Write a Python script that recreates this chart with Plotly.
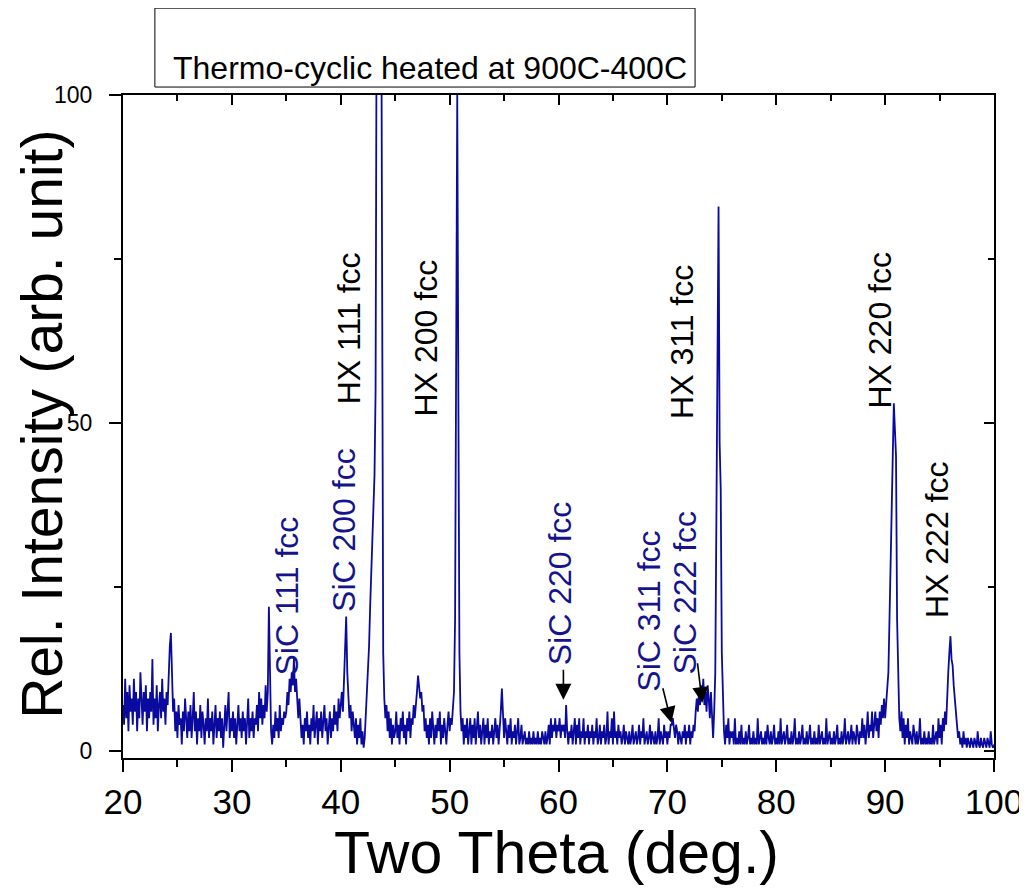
import numpy as np
import plotly.graph_objects as go

# XRD scan, 2-theta sampled every 0.1 deg from 20 to 100
theta_start = 20.0
theta_step = 0.1

# intensities, one list per 10 degrees
int_20s = [7, 4, 11, 5, 9, 3, 10, 6, 8, 4,
           11, 6, 9, 3, 8, 5, 12, 7, 4, 9,
           6, 10, 3, 8, 5, 9, 6, 14, 4, 8,
           5, 10, 3, 7, 9, 5, 11, 6, 8, 4,
           9, 7, 12, 16, 18, 10, 6, 8, 3, 6,
           2, 7, 4, 5, 1, 6, 3, 8, 4, 2,
           6, 3, 7, 2, 5, 9, 3, 6, 1, 5,
           3, 7, 2, 6, 4, 1, 5, 3, 8, 2,
           5, 3, 6, 1, 4, 7, 2, 5, 3, 6,
           2, 5, 0.5, 4, 7, 3, 6, 9, 2, 5]
int_30s = [3, 6, 2, 5, 1, 4, 7, 3, 5, 2,
           6, 3, 5, 1, 4, 8, 2, 5, 3, 6,
           2, 5, 4, 7, 3, 9, 5, 8, 4, 7,
           5, 10, 6, 9, 22, 8, 3, 1, 4, 2,
           6, 3, 5, 2, 7, 3, 5, 4, 6, 5,
           6, 9, 7, 11, 9, 12, 10, 14, 9, 11,
           7, 5, 8, 4, 2, 4, 1, 5, 3, 6,
           2, 4, 1, 5, 3, 7, 2, 4, 6, 1,
           5, 3, 6, 2, 4, 7, 3, 5, 1, 4,
           6, 2, 5, 3, 7, 4, 6, 3, 8, 5]
int_40s = [7, 9, 6, 10, 16, 20.5, 12, 8, 5, 7,
           3, 6, 4, 2, 5, 1, 4, 2, 5, 1,
           3, 0.5, 2, 5, 8, 11, 16, 22, 27, 33,
           38, 42, 55, 140, 210, 240, 200, 130, 45, 15,
           8, 5, 7, 3, 6, 2, 5, 1, 4, 2,
           3, 6, 2, 4, 1, 5, 3, 6, 2, 4,
           1, 5, 3, 6, 2, 5, 4, 7, 5, 8,
           9, 11.5, 10, 8, 9, 6, 7, 3, 5, 2,
           4, 1, 5, 2, 6, 3, 1, 4, 2, 5,
           3, 6, 1, 4, 2, 5, 3, 1, 4, 6]
int_50s = [3, 5, 4, 7, 9, 20, 60, 100, 55, 15,
           6, 3, 5, 1, 4, 2, 5, 1, 3, 5,
           1, 4, 2, 5, 1, 3, 6, 2, 4, 1,
           3, 5, 1, 4, 2, 5, 1, 3, 2, 4,
           1, 3, 5, 2, 4, 1, 3, 6, 9.5, 4,
           2, 5, 3, 1, 4, 2, 5, 1, 3, 2,
           4, 1, 3, 5, 1, 2, 4, 1, 2, 3,
           1, 2, 1, 3, 1, 2, 1, 3, 1, 2,
           1, 3, 1, 2, 1, 3, 2, 1, 3, 1,
           2, 4, 1, 5, 2, 4, 3, 5, 2, 4]
int_60s = [3, 5, 2, 4, 3, 4, 2, 7, 3, 1,
           3, 2, 4, 1, 3, 5, 1, 4, 2, 5,
           1, 3, 2, 5, 1, 3, 2, 4, 1, 3,
           2, 4, 1, 3, 2, 5, 1, 2, 4, 1,
           3, 2, 4, 1, 2, 6, 1, 3, 2, 5,
           1, 6, 2, 3, 1, 4, 2, 3, 1, 2,
           4, 1, 3, 2, 1, 3, 1, 2, 4, 1,
           2, 3, 1, 2, 4, 1, 3, 2, 5, 1,
           2, 3, 1, 2, 4, 1, 3, 2, 1, 3,
           1, 2, 5, 1, 3, 2, 1, 4, 2, 3]
int_70s = [1, 3, 2, 4, 4, 5, 3, 2, 4, 3,
           1, 3, 2, 1, 3, 2, 4, 1, 3, 2,
           4, 1, 3, 2, 4, 3, 6, 8, 6, 9,
           7, 10, 8, 11, 7, 9, 6, 10, 8, 5,
           9, 6, 2, 6, 12, 35, 70, 83, 47, 40,
           15, 6, 3, 1, 4, 2, 5, 1, 3, 2,
           3, 1, 5, 1, 2, 1, 3, 1, 4, 1,
           2, 1, 3, 1, 2, 4, 1, 2, 1, 3,
           1, 2, 1, 5, 1, 2, 3, 1, 2, 1,
           3, 1, 4, 2, 1, 3, 1, 2, 4, 1]
int_80s = [2, 1, 3, 1, 5, 1, 2, 3, 1, 2,
           4, 1, 2, 1, 3, 1, 2, 5, 1, 2,
           1, 3, 1, 2, 4, 1, 2, 1, 3, 1,
           2, 4, 1, 2, 1, 3, 1, 2, 1, 4,
           1, 2, 3, 1, 2, 1, 5, 1, 2, 3,
           1, 2, 1, 3, 1, 2, 4, 1, 2, 1,
           3, 1, 2, 5, 1, 2, 3, 1, 2, 4,
           1, 3, 2, 1, 4, 2, 1, 3, 2, 5,
           2, 4, 1, 3, 6, 2, 4, 3, 6, 2,
           4, 6, 3, 5, 2, 6, 4, 7, 5, 8]
int_90s = [5, 7, 9, 12, 20, 28, 37, 46, 53, 49,
           45, 20, 9, 5, 3, 6, 2, 5, 1, 4,
           2, 5, 1, 3, 2, 1, 4, 2, 1, 3,
           1, 2, 5, 1, 2, 1, 3, 1, 2, 1,
           3, 1, 2, 1, 4, 1, 2, 3, 1, 5,
           2, 4, 1, 5, 3, 6, 4, 9, 12, 15,
           17.5, 14, 13, 10, 8, 6, 4, 2, 3, 1,
           2, 0.5, 3, 1, 2, 0.5, 2, 1, 0.5, 2,
           1, 0.5, 2, 1, 0.5, 3, 1, 0.5, 2, 1,
           0.5, 2, 1, 0.5, 2, 1, 0.5, 3, 1, 0.5, 1]

# peak labels: text, x, y (centre of rotated text)
peak_labels = ["SiC 111 fcc", "SiC 200 fcc", "HX 111 fcc", "HX 200 fcc", "SiC 220 fcc",
               "SiC 311 fcc", "SiC 222 fcc", "HX 311 fcc", "HX 220 fcc", "HX 222 fcc"]
label_x = [35.1, 40.3, 40.7, 47.8, 60.1, 68.35, 71.65, 71.4, 89.5, 94.7]
label_y = [23.6, 33.7, 64.5, 63.0, 25.5, 21.3, 24.2, 62.3, 64.2, 32.2]

# arrows for the weak SiC reflections: tail (x, y) -> tip (x, y)
arrow_tail_x = [60.45, 69.55, 72.75]
arrow_tail_y = [12.6, 9.8, 13.6]
arrow_tip_x = [60.45, 70.37, 73.2]
arrow_tip_y = [7.8, 4.3, 7.3]

intensity = np.array(int_20s + int_30s + int_40s + int_50s + int_60s + int_70s + int_80s + int_90s)
two_theta = np.round(theta_start + theta_step * np.arange(len(intensity)), 1)

FONT = "Arial, Liberation Sans, sans-serif"
TRACE_COLOR = "#0A0A9E"
SIC_COLOR = "#14148C"

fig = go.Figure()
fig.add_trace(go.Scatter(x=two_theta, y=intensity, mode="lines",
                         line=dict(color=TRACE_COLOR, width=1.8), showlegend=False))
# dummy trace so the mirrored top/right axes get drawn
fig.add_trace(go.Scatter(x=[None], y=[None], xaxis="x2", yaxis="y2", showlegend=False,
                         hoverinfo="skip"))

for txt, lx, ly in zip(peak_labels, label_x, label_y):
    fig.add_annotation(x=lx, y=ly, text=txt, textangle=-90, showarrow=False,
                       xanchor="center", yanchor="middle",
                       font=dict(family=FONT, size=32,
                                 color=SIC_COLOR if txt.startswith("SiC") else "black"))

for tx, ty, hx, hy in zip(arrow_tail_x, arrow_tail_y, arrow_tip_x, arrow_tip_y):
    fig.add_annotation(x=hx, y=hy, ax=tx, ay=ty, axref="x", ayref="y", text="",
                       showarrow=True, arrowhead=2, arrowsize=2, arrowwidth=1.6,
                       arrowcolor="black")

# axis titles as annotations to control placement
fig.add_annotation(x=0.498, y=-0.143, xref="paper", yref="paper", text="Two Theta (deg.)",
                   xanchor="center", yanchor="middle", showarrow=False,
                   font=dict(family=FONT, size=59, color="black"))
fig.add_annotation(x=-0.093, y=0.504, xref="paper", yref="paper",
                   text="Rel. Intensity (arb. unit)", textangle=-90, showarrow=False,
                   xanchor="center", yanchor="middle",
                   font=dict(family=FONT, size=57, color="black"))

# legend-like box at the top
fig.add_shape(type="rect", xref="paper", yref="paper", x0=0.0366, x1=0.6568, y0=1.012, y1=1.131,
              line=dict(color="black", width=1), fillcolor="white")
fig.add_annotation(x=0.352, y=1.04, xref="paper", yref="paper", xanchor="center",
                   yanchor="middle", text="Thermo-cyclic heated at 900C-400C", showarrow=False,
                   font=dict(family=FONT, size=32, color="black"))

x_rng = [20, 100]
y_rng = [-1.07, 100]
axis_common = dict(showgrid=False, zeroline=False, linecolor="black", linewidth=2,
                   tickcolor="black", tickwidth=2)

fig.update_layout(
    width=1027, height=892,
    margin=dict(l=115, r=36, t=87, b=142),
    paper_bgcolor="white", plot_bgcolor="white",
    font=dict(family=FONT, color="black"),
    xaxis=dict(range=x_rng, tick0=20, dtick=10, ticks="outside", ticklen=12,
               tickfont=dict(size=35), ticklabeloverflow="allow",
               minor=dict(dtick=5, ticks="outside", ticklen=7, tickwidth=2, tickcolor="black"),
               **axis_common),
    yaxis=dict(range=y_rng, tick0=0, dtick=50, ticks="outside", ticklen=12,
               tickfont=dict(size=23), ticklabelstandoff=12, ticklabeloverflow="allow",
               minor=dict(dtick=25, tick0=0, ticks="outside", ticklen=7, tickwidth=2,
                          tickcolor="black"),
               **axis_common),
    xaxis2=dict(range=x_rng, overlaying="x", side="top", tick0=20, dtick=10, ticks="inside",
                ticklen=10, showticklabels=False,
                minor=dict(dtick=5, ticks="inside", ticklen=6, tickwidth=2, tickcolor="black"),
                **axis_common),
    yaxis2=dict(range=y_rng, overlaying="y", side="right", tick0=0, dtick=50, ticks="inside",
                ticklen=10, showticklabels=False,
                minor=dict(dtick=25, tick0=0, ticks="inside", ticklen=6, tickwidth=2,
                           tickcolor="black"),
                **axis_common),
)

fig.write_html("out.html")
